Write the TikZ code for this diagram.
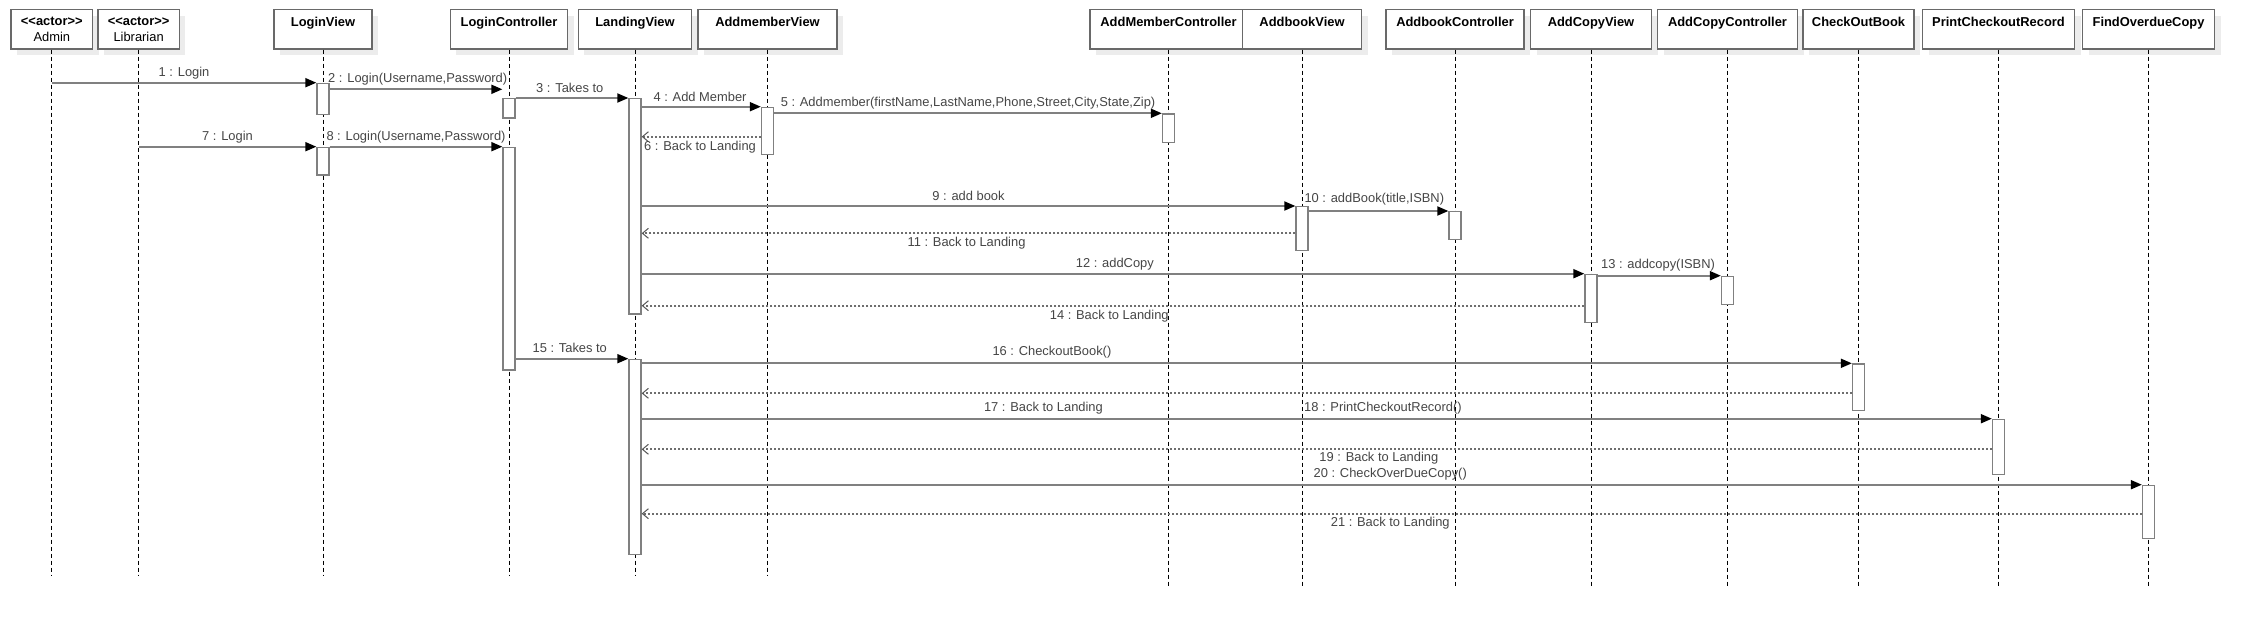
\documentclass[tikz,border=0pt]{standalone}
\usepackage{fontspec}
\setmainfont{Liberation Sans}[Ligatures=TeXOff]
\usetikzlibrary{
  arrows.meta,
  shadows,
  calc
}
\definecolor{linegray}{RGB}{128,128,128}
\definecolor{dotgray}{RGB}{110,110,110}
\definecolor{boxborder}{RGB}{105,105,105}
\definecolor{labelgray}{RGB}{70,70,70}
\definecolor{shadowgray}{RGB}{236,236,236}

\begin{document}
\begin{tikzpicture}[
  x=1pt, y=-1pt,
  font=\fontsize{12.9}{15.5}\selectfont,
  head/.style={
    rectangle,
    draw=boxborder,
    line width=1.4pt,
    fill=white,
    minimum width=#1,
    minimum height=39.7,
    text height=9pt,
    text depth=14pt,
    font=\fontsize{12.9}{15.5}\selectfont\bfseries,
    drop shadow={shadow xshift=6pt,shadow yshift=-6.5pt,fill=shadowgray,opacity=1}
  },
  actor/.style={
    head=#1,
    text height=,
    text depth=,
    align=center,
    font=\fontsize{12.9}{15.6}\selectfont
  },
  lifeline/.style={
    draw=black,
    line width=0.9pt,
    dash pattern=on 4pt off 3pt
  },
  act/.style={
    rectangle,
    draw=linegray,
    line width=1.3pt,
    fill=white,
    inner sep=0pt,
    anchor=north,
    minimum width=12,
    minimum height=#1
  },
  msg/.style={
    draw=linegray,
    line width=1.8pt,
    -{Triangle[length=11pt,width=9pt,color=black]}
  },
  ret/.style={
    draw=dotgray,
    line width=1.8pt,
    dash pattern=on 2pt off 2pt,
    -{Straight Barb[length=6pt,width=10pt,line width=1pt,color=black!65]}
  },
  lbl/.style={
    text=labelgray,
    inner sep=1pt
  }
]

\path[use as bounding box,fill=white] (0,0) rectangle (2253,626);

% ------------------------------------------------------------------
% Participants
% ------------------------------------------------------------------
\node[actor=81.4] (adm) at (51.8,29.15) {\textbf{<<actor>>}\\Admin};
\node[actor=81.4] (lib) at (138.6,29.15) {\textbf{<<actor>>}\\Librarian};
\node[head=98]    (lv)  at (323,29.15)   {LoginView};
\node[head=117.5] (lc)  at (509,29.15)   {LoginController};
\node[head=113.5] (ldv) at (635,29.15)   {LandingView};
\node[head=139]   (amv) at (767.5,29.15) {AddmemberView};
\node[head=157]   (amc) at (1168.5,29.15) {AddMemberController};
\node[head=119]   (abv) at (1302,29.15)  {AddbookView};
\node[head=138]   (abc) at (1455,29.15)  {AddbookController};
\node[head=121]   (acv) at (1591,29.15)  {AddCopyView};
\node[head=140]   (acc) at (1727.5,29.15) {AddCopyController};
\node[head=111]   (cob) at (1858.5,29.15) {CheckOutBook};
\node[head=152]   (pcr) at (1998.5,29.15) {PrintCheckoutRecord};
\node[head=132]   (fod) at (2148.5,29.15) {FindOverdueCopy};

% lifeline ends
\coordinate (e1) at (0,575);
\coordinate (e2) at (0,586.5);

\foreach \n in {adm,lib,lv,lc,ldv,amv}
  \draw[lifeline] (\n.south) -- (\n.south |- e1);
\foreach \n in {amc,abv,abc,acv,acc,cob,pcr,fod}
  \draw[lifeline] (\n.south) -- (\n.south |- e2);

% ------------------------------------------------------------------
% Activations
% ------------------------------------------------------------------
\node[act=31.3]  (lv1)  at (lv |- 0,82.7)   {};
\node[act=19.3]  (lc1)  at (lc |- 0,98)     {};
\node[act=27.6]  (lv2)  at (lv |- 0,146.7)  {};
\node[act=222.6] (lc2)  at (lc |- 0,146.7)  {};
\node[act=215.6] (ldv1) at (ldv |- 0,97.7)  {};
\node[act=47.3]  (amv1) at (amv |- 0,106.7) {};
\node[act=28.4]  (amc1) at (amc |- 0,113.3) {};
\node[act=44]    (abv1) at (abv |- 0,206)   {};
\node[act=28]    (abc1) at (abc |- 0,211)   {};
\node[act=48.3]  (acv1) at (acv |- 0,273.7) {};
\node[act=28.3]  (acc1) at (acc |- 0,275.7) {};
\node[act=195.3] (ldv2) at (ldv |- 0,358.7) {};
\node[act=46.7]  (cob1) at (cob |- 0,363.3) {};
\node[act=55.3]  (pcr1) at (pcr |- 0,418.7) {};
\node[act=53.3]  (fod1) at (fod |- 0,484.7) {};

% ------------------------------------------------------------------
% Messages (one row per message)
% ------------------------------------------------------------------
\foreach \r/\y in {1/82.7,2/89.3,3/98,4/106.7,5/113.3,6/136.7,7/146.7,
                   9/206,10/211,11/233.3,12/273.7,13/275.7,14/305.7,
                   15/358.7,16/363.3,17/393.3,18/418.7,19/449.3,
                   20/484.7,21/513.7}
  \coordinate (r\r) at (0,\y);

\draw[msg] (adm |- r1) -- (lv1.west |- r1)
  node[lbl,pos=.5,yshift=10pt] (m1) {1 : Login};
\draw[msg] (lv1.east |- r2) -- (lc1.west |- r2)
  node[lbl,pos=.51,yshift=10.3pt] (m2) {2 : Login(Username,Password)};
\draw[msg] (lc1.east |- r3) -- (ldv1.west |- r3)
  node[lbl,pos=.48,yshift=10pt] (m3) {3 : Takes to};
\draw[msg] (ldv1.east |- r4) -- (amv1.west |- r4)
  node[lbl,pos=.49,yshift=10pt] (m4) {4 : Add Member};
\draw[msg] (amv1.east |- r5) -- (amc1.west |- r5)
  node[lbl,pos=.5,yshift=10pt] (m5) {5 : Addmember(firstName,LastName,Phone,Street,City,State,Zip)};
\draw[ret] (amv1.west |- r6) -- (ldv1.east |- r6)
  node[lbl,pos=.51,yshift=-10.6pt] (m6) {6 : Back to Landing};
\draw[msg] (lib |- r7) -- (lv2.west |- r7)
  node[lbl,pos=.5,yshift=10pt] (m7) {7 : Login};
\draw[msg] (lv2.east |- r7) -- (lc2.west |- r7)
  node[lbl,pos=.5,yshift=10pt] (m8) {8 : Login(Username,Password)};

\draw[msg] (ldv1.east |- r9) -- (abv1.west |- r9)
  node[lbl,pos=.5,yshift=10.3pt] (m9) {9 : add book};
\draw[msg] (abv1.east |- r10) -- (abc1.west |- r10)
  node[lbl,pos=.47,yshift=11.7pt] (m10) {10 : addBook(title,ISBN)};
\draw[ret] (abv1.west |- r11) -- (ldv1.east |- r11)
  node[lbl,pos=.503,yshift=-10pt] (m11) {11 : Back to Landing};
\draw[msg] (ldv1.east |- r12) -- (acv1.west |- r12)
  node[lbl,pos=.502,yshift=9.4pt] (m12) {12 : addCopy};
\draw[msg] (acv1.east |- r13) -- (acc1.west |- r13)
  node[lbl,pos=.49,yshift=10.7pt] (m13) {13 : addcopy(ISBN)};
\draw[ret] (acv1.west |- r14) -- (ldv1.east |- r14)
  node[lbl,pos=.504,yshift=-10.3pt] (m14) {14 : Back to Landing};

\draw[msg] (lc2.east |- r15) -- (ldv2.west |- r15)
  node[lbl,pos=.48,yshift=10.4pt] (m15) {15 : Takes to};
\draw[msg] (ldv2.east |- r16) -- (cob1.west |- r16)
  node[lbl,pos=.339,yshift=11pt] (m16) {16 : CheckoutBook()};
\draw[ret] (cob1.west |- r17) -- (ldv2.east |- r17)
  node[lbl,pos=.668,yshift=-14.4pt] (m17) {17 : Back to Landing};
\draw[msg] (ldv2.east |- r18) -- (pcr1.west |- r18)
  node[lbl,pos=.549,yshift=11pt] (m18) {18 : PrintCheckoutRecord()};
\draw[ret] (pcr1.west |- r19) -- (ldv2.east |- r19)
  node[lbl,pos=.454,yshift=-8.4pt] (m19) {19 : Back to Landing};
\draw[msg] (ldv2.east |- r20) -- (fod1.west |- r20)
  node[lbl,pos=.499,yshift=10.4pt] (m20) {20 : CheckOverDueCopy()};
\draw[ret] (fod1.west |- r21) -- (ldv2.east |- r21)
  node[lbl,pos=.501,yshift=-9.6pt] (m21) {21 : Back to Landing};

\end{tikzpicture}
\end{document}
